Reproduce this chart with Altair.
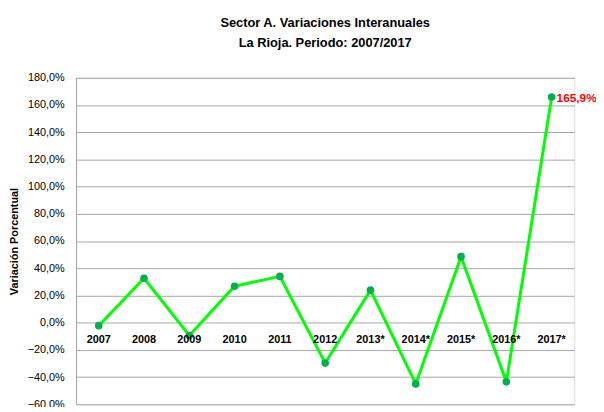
import altair as alt
import pandas as pd

years = ["2007", "2008", "2009", "2010", "2011", "2012", "2013*", "2014*", "2015*", "2016*", "2017*"]
values = [-2.2, 32.6, -9.4, 26.8, 34.0, -29.7, 23.9, -45.0, 48.5, -43.5, 165.9]
last_label = "165,9%"

df = pd.DataFrame({"year": years, "value": values, "zero": [0] * len(years)})
df["label"] = ["" for _ in years]
df.loc[len(df) - 1, "label"] = last_label

font = "Liberation Sans"

x = alt.X("year:N", sort=years,
          scale=alt.Scale(type="point", padding=0.5),
          axis=None)
yscale = alt.Scale(domain=[-60, 180], nice=False, zero=False)
yaxis = alt.Axis(values=list(range(-60, 181, 20)), tickCount=13,
                 labelExpr="replace(format(datum.value, '.1f'), '.', ',') + '%'",
                 labelOverlap=False, labelBound=False, labelFlush=False,
                 title="Variación  Porcentual", titleFont=font, titleFontSize=11,
                 titleFontWeight="bold", titleColor="black", titlePadding=8,
                 labelFont=font, labelFontSize=11, labelColor="black", labelPadding=12,
                 ticks=False, domain=True, domainColor="#A6A6A6",
                 grid=True, gridColor="#A6A6A6", gridWidth=1)
y = alt.Y("value:Q", scale=yscale, axis=yaxis)

base = alt.Chart(df)

line = base.mark_line(color="#00FF00", strokeWidth=3).encode(x=x, y=y)
pts = base.mark_point(filled=True, opacity=1, color="#00B050", size=60).encode(x=x, y=y)
lab = base.mark_text(color="red", fontWeight="bold", font=font, fontSize=12,
                     align="left", dx=5, dy=1).encode(x=x, y=y, text="label:N")
xlabels = base.mark_text(color="black", fontWeight="bold", font=font, fontSize=11,
                         baseline="top", dy=12).encode(
    x=x, y=alt.Y("zero:Q", scale=yscale, axis=yaxis), text="year:N")

chart = alt.layer(line, pts, lab, xlabels).properties(
    width=505, height=331,
    autosize=alt.AutoSizeParams(type="none"),
    padding={"left": 69, "top": 68, "right": 22, "bottom": 0},
    title=alt.Title(["Sector A. Variaciones Interanuales", "La Rioja. Periodo: 2007/2017"],
                    font=font, fontSize=13, fontWeight="bold", color="black",
                    anchor="middle", offset=22, lineHeight=20),
).configure_view(stroke="transparent").configure(background="white")

chart.save("out.html", embed_options={"renderer": "svg", "actions": False})
